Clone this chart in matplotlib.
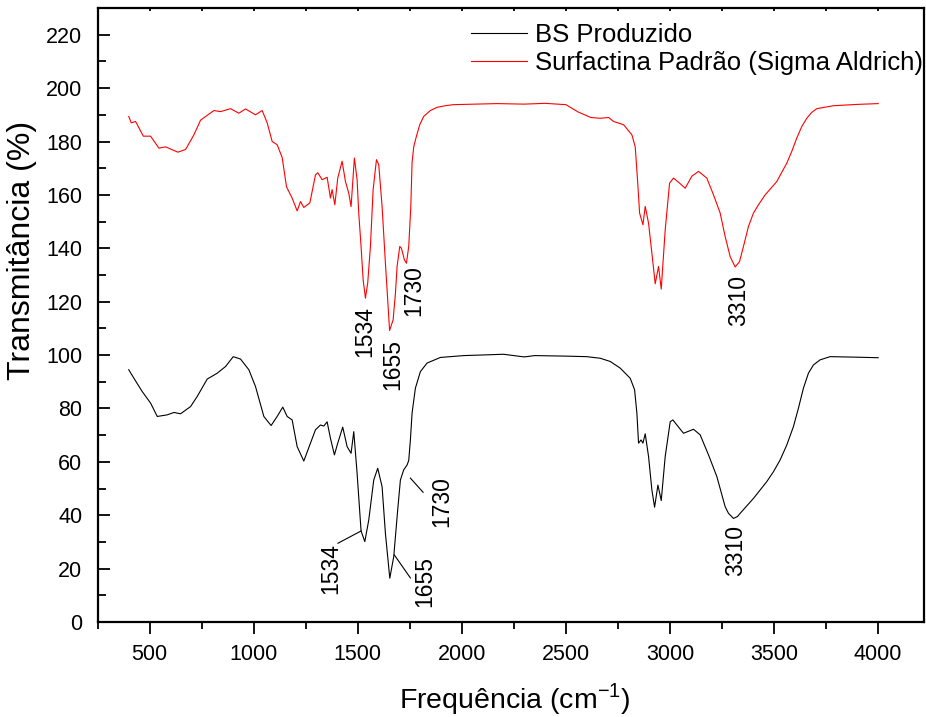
import numpy as np
import matplotlib
matplotlib.use('Agg')
import matplotlib.pyplot as plt

plt.rcParams['font.family'] = ['Liberation Sans', 'DejaVu Sans']
plt.rcParams['mathtext.fontset'] = 'custom'
plt.rcParams['mathtext.rm'] = 'Liberation Sans'

# Surfactina padrao (red, offset +100)
red_x = [400, 412, 433, 470, 505, 545, 577, 636, 673, 713, 745, 809, 841, 889, 929, 961,
         1009, 1041, 1065, 1089, 1113, 1137, 1158, 1185, 1209, 1225, 1241, 1270, 1297, 1308,
         1329, 1353, 1369, 1377, 1390, 1404, 1425, 1441, 1457, 1468, 1484, 1497, 1505, 1516,
         1526, 1537, 1548, 1561, 1574, 1590, 1601, 1617, 1633, 1644, 1653, 1670, 1681, 1689,
         1702, 1710, 1724, 1734, 1745, 1755, 1761, 1769, 1782, 1798, 1817, 1849, 1881, 1921,
         1959, 2169, 2300, 2400, 2500, 2560, 2620, 2665, 2705, 2729, 2777, 2817, 2833, 2844,
         2854, 2870, 2881, 2897, 2913, 2929, 2945, 2958, 2977, 2998, 3017, 3049, 3073, 3105,
         3137, 3177, 3209, 3241, 3265, 3289, 3313, 3334, 3353, 3377, 3401, 3425, 3457, 3513,
         3561, 3585, 3609, 3633, 3657, 3681, 3705, 3785, 3900, 4000]
red_y = [189.4, 187, 187.5, 182, 182, 177.5, 178, 176, 177, 182.5, 188, 191.6, 191.2, 192.3, 190.6, 192.2,
         190, 191.6, 187, 180, 178.8, 174, 163, 158.8, 154, 157.5, 155.3, 157, 167.5, 168.3,
         165.7, 166.6, 158.8, 162, 156.3, 166.3, 172.6, 165, 160.6, 155.6, 173.8, 165.7, 153, 140.7,
         128.2, 121.3, 127, 140.7, 162, 173.2, 171.3, 155.7, 134.4, 120.7, 109.2, 113.2, 123, 133.2,
         140.7, 140, 135.7, 134.4, 140.7, 155.7, 172, 178, 182, 186.3, 189.4, 191.6, 192.8, 193.4,
         193.8, 194.2, 194.0, 194.3, 193.8, 191, 189, 188.7, 189, 187.5, 186.3, 182.5, 178, 165.7,
         153.2, 148.8, 155.7, 149.4, 138.2, 126.7, 133.2, 124.7, 146.9, 164.4, 166.3, 164.2, 162.5, 167,
         168.8, 166.3, 160, 153.2, 144.4, 136.9, 133, 135, 140.7, 148.2, 153.2, 156.3, 160, 165,
         171.9, 176.3, 181.3, 185.6, 188.7, 190.9, 192.3, 193.4, 193.9, 194.2]

# BS produzido (black)
black_x = [400, 425, 465, 505, 537, 585, 617, 649, 697, 729, 777, 825, 865, 902, 937, 977,
           1009, 1049, 1084, 1113, 1140, 1161, 1185, 1209, 1241, 1273, 1297, 1321, 1337, 1353,
           1369, 1388, 1404, 1428, 1449, 1468, 1481, 1497, 1516, 1534, 1553, 1577, 1596, 1617,
           1633, 1654, 1673, 1692, 1705, 1721, 1737, 1745, 1753, 1761, 1777, 1801, 1833, 1897,
           2009, 2089, 2200, 2300, 2350, 2500, 2600, 2665, 2713, 2761, 2809, 2830, 2841, 2849,
           2861, 2870, 2881, 2897, 2913, 2926, 2942, 2958, 2977, 3001, 3014, 3033, 3065, 3113,
           3145, 3185, 3225, 3265, 3281, 3305, 3324, 3337, 3401, 3465, 3497, 3529, 3561, 3593,
           3617, 3641, 3665, 3689, 3721, 3769, 3900, 4000]
black_y = [94.5, 91.3, 86.3, 82, 77, 77.6, 78.5, 78, 80.7, 84.5, 91, 93.2, 95.7, 99.4, 98.5, 94.5,
           88.2, 77, 73.6, 77, 80.5, 77, 75.7, 65.7, 60.3, 67, 72, 73.8, 73.4, 75,
           68.8, 62.6, 67, 73, 65.7, 63.2, 71.3, 55.7, 34.1, 30.1, 38.2, 53.2, 57.6, 50.7,
           33.2, 16.4, 24.5, 42, 53.2, 57, 58.8, 60.5, 68.2, 78.2, 87.6, 93.8, 97, 99.1,
           99.8, 100, 100.3, 99.3, 99.8, 99.6, 99.4, 98.8, 97.6, 95.1, 91.3, 87, 78.2, 67,
           68.2, 67, 70.5, 62, 49.5, 43, 51.3, 45.5, 62, 75, 75.7, 73.8, 70.7, 72.2,
           70.1, 62.6, 54.5, 43.2, 40.7, 38.8, 39.5, 40.7, 46.3, 52.6, 56.3, 60.7, 66.3, 73.2,
           80.1, 87.6, 93.2, 96.3, 98.2, 99.4, 99.2, 99]

# peak labels: (text, x, y)
red_labels = [('1534', 1532, 108.7), ('1655', 1667, 96.3), ('1730', 1767, 124), ('3310', 3328, 120.3)]
black_labels = [('1534', 1369, 20.2), ('1655', 1820, 15), ('1730', 1902, 45), ('3310', 3313, 26.6)]
# leader lines for black labels: (x0, y0, x1, y1)
black_leaders = [(1405, 29.5, 1516, 34.1), (1676, 25.1, 1753, 16.5), (1753, 53.9, 1814, 48.6)]

fig = plt.figure(figsize=(9.26, 7.17), dpi=100)
ax = fig.add_axes([0.1053, 0.1325, 0.8925, 0.8563])

ax.plot(black_x, black_y, color='black', lw=0.8, label='BS Produzido')
ax.plot(red_x, red_y, color='red', lw=0.8, label='Surfactina Padrão (Sigma Aldrich)')

for txt, x, y in red_labels + black_labels:
    ax.text(x, y, txt, rotation=90, ha='center', va='center', fontsize=16.5)
for x0, y0, x1, y1 in black_leaders:
    ax.plot([x0, x1], [y0, y1], color='black', lw=0.8)

ax.set_xlim(250, 4220)
ax.set_ylim(0, 230)
ax.set_xticks(np.arange(500, 4001, 500))
ax.set_xticks(np.arange(250, 4220, 250), minor=True)
ax.set_yticks(np.arange(0, 221, 20))
ax.set_yticks(np.arange(0, 230, 10), minor=True)

ax.tick_params(axis='x', which='major', direction='out', length=8.5, width=1.3, labelsize=15.5, pad=7,
               top=True)
ax.tick_params(axis='x', which='minor', direction='out', length=5, width=1.3, top=True)
ax.tick_params(axis='y', which='major', direction='in', length=8.5, width=1.3, labelsize=15.5, pad=11)
ax.tick_params(axis='y', which='minor', direction='in', length=5.5, width=1.3)
for t in ax.xaxis.get_major_ticks() + ax.xaxis.get_minor_ticks():
    t.tick2line.set_markersize(2.5)
    t.tick2line.set_marker(3)
for s in ax.spines.values():
    s.set_linewidth(1.6)

fig.text(22 / 926, 1 - 250 / 717, 'Transmitância (%)', rotation=90, ha='center', va='center', fontsize=23)
fig.text(515 / 926, 1 - 699 / 717, r'Frequência (cm$^{\mathregular{-1}}$)', ha='center', va='center',
         fontsize=20.5)

ax.legend(loc='upper right', bbox_to_anchor=(0.999, 0.975), frameon=False, fontsize=18.5,
          handlelength=2.2, handletextpad=0.3, labelspacing=0.15, borderpad=0, borderaxespad=0)

fig.savefig('out.png', dpi=100)
